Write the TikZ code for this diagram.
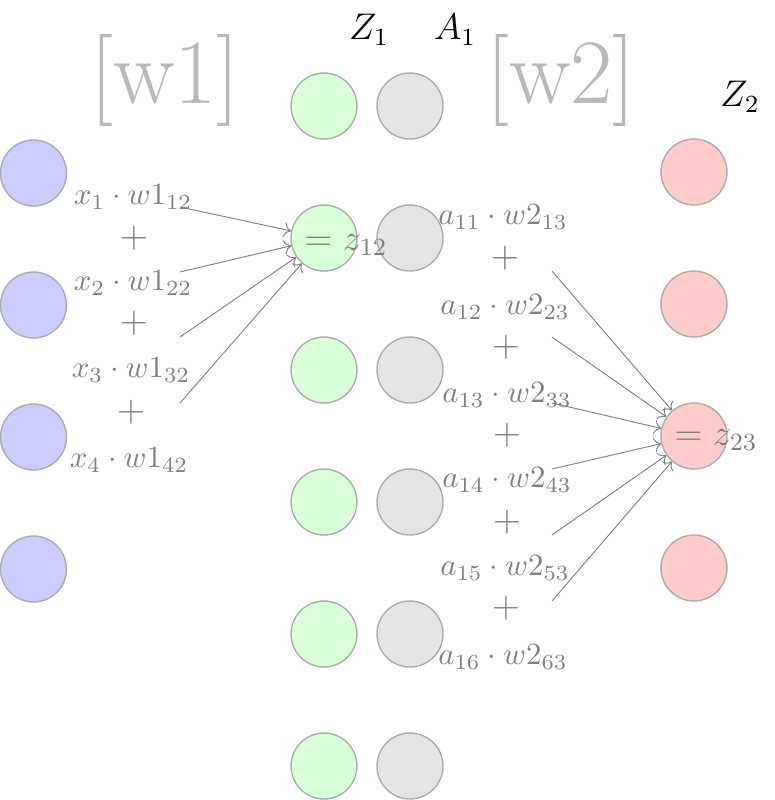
\documentclass[tikz,border=0pt]{standalone}
\usetikzlibrary{arrows.meta}
\begin{document}
\begin{tikzpicture}[x=0.011364cm,y=-0.011364cm,
  neuron/.style={circle,draw=gray!65,line width=0.45pt,minimum size=0.75cm,inner sep=0pt},
  inp/.style={neuron,fill=blue!20},
  hid/.style={neuron,fill=green!15},
  act/.style={neuron,fill=gray!20},
  outn/.style={neuron,fill=red!20},
  lbl/.style={text=gray,inner sep=0pt},
  plus/.style={lbl,font=\large},
  res/.style={lbl,font=\large},
  big/.style={text=gray!55,font=\fontsize{29.8}{35}\selectfont,inner sep=0pt},
  hdr/.style={font=\large,inner sep=0pt},
  arr/.style={draw=gray,line width=0.3pt,-To}]
\useasboundingbox (0,0) rectangle (775,800);
% input layer
\foreach \i/\y in {1/173,2/305,3/437,4/569}
  \node[inp] (x\i) at (33.5,\y) {};
% hidden layer
\foreach \i/\y in {1/106,2/238,3/370,4/502,5/634,6/766}{
  \node[hid] (h\i) at (324,\y) {};
  \node[act] (a\i) at (410,\y) {};
}
% output layer
\foreach \i/\y in {1/172,2/304,3/436,4/568}
  \node[outn] (o\i) at (694,\y) {};
% headers
\node[hdr] (zh1) at (369,30) {$Z_1$};
\node[hdr] (ah1) at (455,30) {$A_1$};
\node[hdr] (zh2) at (740,97) {$Z_2$};
\node[big] (w1) at (165,80) {[w1]};
\node[big] (w2) at (561,80) {[w2]};
% left sum
\node[lbl] (l1) at (133,197) {$x_1\cdot w1_{12}$};
\node[plus] (p1) at (134,238) {$+$};
\node[lbl] (l2) at (133,283) {$x_2\cdot w1_{22}$};
\node[plus] (p2) at (134,323) {$+$};
\node[lbl] (l3) at (131,370) {$x_3\cdot w1_{32}$};
\node[plus] (p3) at (131,412) {$+$};
\node[lbl] (l4) at (129,460) {$x_4\cdot w1_{42}$};
\node[res] (zr1) at (346,245) {$=z_{12}$};
\coordinate (s1) at (180,207);
\coordinate (s2) at (180,272);
\coordinate (s3) at (180,337);
\coordinate (s4) at (180,403);
\foreach \i in {1,...,4}
  \draw[arr] (s\i) -- (h2);
% right sum
\node[lbl] (r1) at (503,217) {$a_{11}\cdot w2_{13}$};
\node[plus] (q1) at (505,258) {$+$};
\node[lbl] (r2) at (505,307) {$a_{12}\cdot w2_{23}$};
\node[plus] (q2) at (506,347) {$+$};
\node[lbl] (r3) at (507,395) {$a_{13}\cdot w2_{33}$};
\node[plus] (q3) at (507,435) {$+$};
\node[lbl] (r4) at (507,480) {$a_{14}\cdot w2_{43}$};
\node[plus] (q4) at (507,522) {$+$};
\node[lbl] (r5) at (505,568) {$a_{15}\cdot w2_{53}$};
\node[plus] (q5) at (506,608) {$+$};
\node[lbl] (r6) at (503,657) {$a_{16}\cdot w2_{63}$};
\node[res] (zr2) at (716,440) {$=z_{23}$};
\coordinate (t1) at (552,271);
\coordinate (t2) at (552,337);
\coordinate (t3) at (552,403);
\coordinate (t4) at (552,469);
\coordinate (t5) at (552,535);
\coordinate (t6) at (552,601);
\foreach \i in {1,...,6}
  \draw[arr] (t\i) -- (o3);
\end{tikzpicture}
\end{document}
